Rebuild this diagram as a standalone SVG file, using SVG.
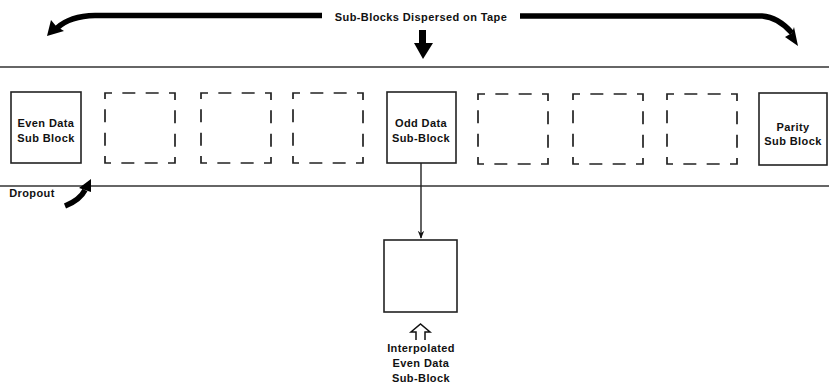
<svg xmlns="http://www.w3.org/2000/svg" width="829" height="385" viewBox="0 0 829 385">
<defs>
<style>
.t{font-family:"Liberation Sans",Arial,sans-serif;font-weight:bold;font-size:11px;letter-spacing:0.4px;fill:#111;text-anchor:middle}
.box{fill:none;stroke:#222;stroke-width:1.6}
.dash{fill:none;stroke:#222;stroke-width:1.7;stroke-dasharray:13 10.333;stroke-dashoffset:6}
.tape{stroke:#333;stroke-width:1.4}
.thick{fill:none;stroke:#000;stroke-width:5.5}
</style>
<marker id="ah" viewBox="0 0 10 10" refX="9" refY="5" markerWidth="8" markerHeight="8" orient="auto" markerUnits="userSpaceOnUse">
<path d="M0,1 L10,5 L0,9 L3,5 Z" fill="#111"/>
</marker>
</defs>
<rect width="829" height="385" fill="#fff"/>
<g id="tape">
<line class="tape" x1="0" y1="67" x2="829" y2="67"/>
<line class="tape" x1="0" y1="186" x2="829" y2="186"/>
</g>
<g id="connectors">
<path class="thick" d="M322,15.5 L95,15.5 Q70,16 57,28"/>
<path d="M47,36 L51,20 L56,26 L64,31 Z" fill="#000"/>
<path class="thick" d="M520,16 L762,16 Q778,17 792,33"/>
<path d="M798,46 L785,37 L792,33 L794,27 Z" fill="#000"/>
<path d="M419,30 L426,30 L426,43 L433,43 L423,59 L414,43 L419,43 Z" fill="#000"/>
<path class="thick" d="M65,206 Q80,200 85,190" stroke-width="6"/>
<path d="M91,179 L79,188 L91,192 Z" fill="#000"/>
<line x1="421" y1="163" x2="421" y2="238" stroke="#222" stroke-width="1.4" marker-end="url(#ah)"/>
<path d="M416,340 L416,332 L411,332 L420.5,324 L430,332 L425,332 L425,340" fill="none" stroke="#111" stroke-width="1.5"/>
</g>
<text class="t" x="421" y="21">Sub-Blocks Dispersed on Tape</text>
<g id="even">
<rect class="box" x="11" y="92" width="70" height="71"/>
<text class="t" x="46" y="127">Even Data</text>
<text class="t" x="46" y="142">Sub Block</text>
</g>
<g id="d1"><rect class="dash" x="105" y="93" width="70" height="70"/></g>
<g id="d2"><rect class="dash" x="201" y="93" width="70" height="70"/></g>
<g id="d3"><rect class="dash" x="293" y="93" width="70" height="70"/></g>
<g id="odd">
<rect class="box" x="387" y="92" width="69" height="71"/>
<text class="t" x="421" y="127">Odd Data</text>
<text class="t" x="421" y="142">Sub-Block</text>
</g>
<g id="d4"><rect class="dash" x="478" y="94" width="70" height="70"/></g>
<g id="d5"><rect class="dash" x="573" y="94" width="70" height="70"/></g>
<g id="d6"><rect class="dash" x="667" y="94" width="70" height="70"/></g>
<g id="parity">
<rect class="box" x="759" y="93" width="68" height="72"/>
<text class="t" x="793" y="131">Parity</text>
<text class="t" x="793" y="145">Sub Block</text>
</g>
<g id="interp">
<rect class="box" x="384" y="240" width="73" height="72"/>
<text class="t" x="421" y="352">Interpolated</text>
<text class="t" x="421" y="367">Even Data</text>
<text class="t" x="421" y="382">Sub-Block</text>
</g>
<text class="t" x="32" y="197">Dropout</text>
</svg>
